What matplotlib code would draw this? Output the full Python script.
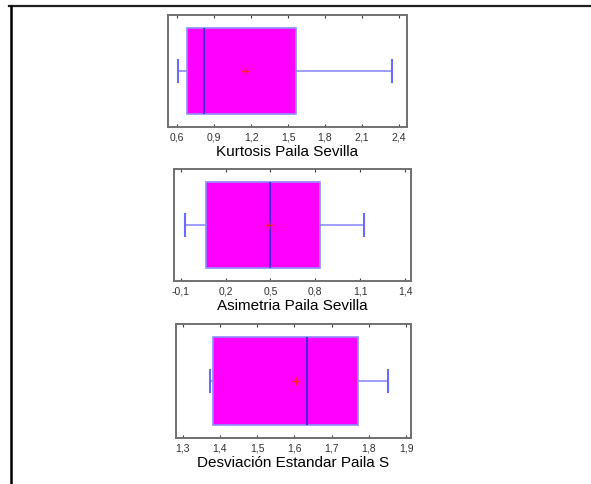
import matplotlib
matplotlib.use('Agg')
import matplotlib.pyplot as plt
from matplotlib.lines import Line2D

plt.rcParams['font.family'] = ['Liberation Sans', 'DejaVu Sans']

# Valores (cuartiles, bigotes y media)
titulos = ['Kurtosis Paila Sevilla', 'Asimetria Paila Sevilla', 'Desviación Estandar Paila S']
q1 = [0.679, 0.069, 1.381]
mediana = [0.819, 0.499, 1.634]
q3 = [1.565, 0.831, 1.772]
bigote_min = [0.611, -0.071, 1.372]
bigote_max = [2.346, 1.123, 1.850]
media = [1.151, 0.490, 1.6055]

ticks = [
    [0.6, 0.9, 1.2, 1.5, 1.8, 2.1, 2.4],
    [-0.1, 0.2, 0.5, 0.8, 1.1, 1.4],
    [1.3, 1.4, 1.5, 1.6, 1.7, 1.8, 1.9],
]
tick_labels = [
    ['0,6', '0,9', '1,2', '1,5', '1,8', '2,1', '2,4'],
    ['-0,1', '0,2', '0,5', '0,8', '1,1', '1,4'],
    ['1,3', '1,4', '1,5', '1,6', '1,7', '1,8', '1,9'],
]
limites = [(0.527, 2.465), (-0.145, 1.44), (1.282, 1.913)]

posiciones = [
    [0.2843, 0.7361, 0.4044, 0.2309],
    [0.2944, 0.4186, 0.4010, 0.2309],
    [0.2978, 0.0948, 0.3976, 0.2351],
]

fig = plt.figure(figsize=(5.91, 4.85), dpi=100)

# marco exterior
fig.add_artist(Line2D([9 / 591, 1.0], [1 - 7 / 485, 1 - 7 / 485], color='#202020', lw=1.6))
fig.add_artist(Line2D([10.5 / 591, 10.5 / 591], [0.0, 1 - 7 / 485], color='black', lw=1.8))

for i in range(3):
    ax = fig.add_axes(posiciones[i])
    stats = [{
        'q1': q1[i], 'med': mediana[i], 'q3': q3[i],
        'whislo': bigote_min[i], 'whishi': bigote_max[i],
        'mean': media[i], 'fliers': [],
    }]
    ax.bxp(stats, positions=[1], widths=0.77, capwidths=0.19,
           orientation='horizontal', showmeans=True, patch_artist=True,
           boxprops=dict(facecolor='#ff00ff', edgecolor='#8c8cff', lw=1.2),
           medianprops=dict(color='#2a2ae0', lw=1.2),
           whiskerprops=dict(color='#8c8cff', lw=1.2),
           capprops=dict(color='#6a6aff', lw=1.5),
           meanprops=dict(marker='+', markeredgecolor='#ff2020',
                          markersize=6, markeredgewidth=1))
    ax.set_ylim(0.5, 1.5)
    ax.set_yticks([])
    ax.set_xlim(limites[i])
    ax.set_xticks(ticks[i])
    ax.set_xticklabels(tick_labels[i], fontsize=7.5, color='#303030')
    ax.tick_params(axis='x', direction='in', length=2.5, width=0.8,
                   color='#404040', top=True, pad=3)
    for s in ax.spines.values():
        s.set_color('#707070')
        s.set_linewidth(1.4)
    ax.set_xlabel(titulos[i], fontsize=11, labelpad=2)

fig.savefig('out.png', dpi=100)
